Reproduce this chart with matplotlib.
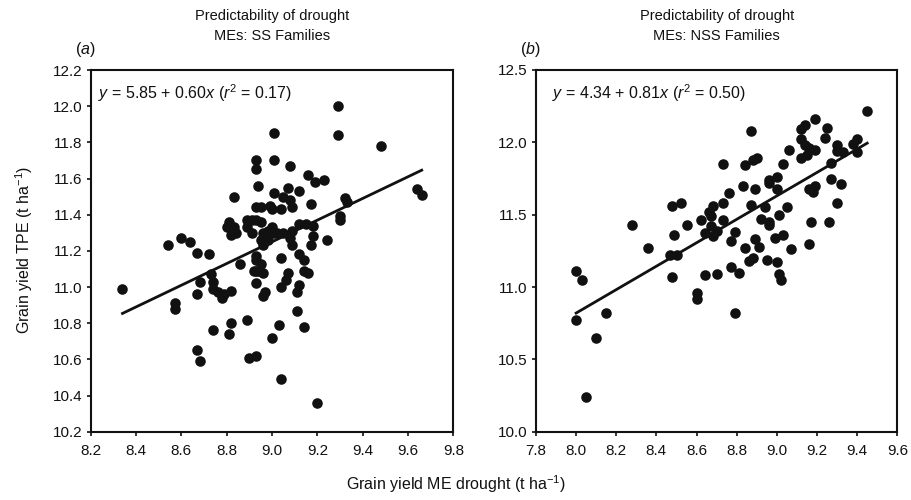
import numpy as np
import matplotlib
matplotlib.use('Agg')
import matplotlib.pyplot as plt

plt.rcParams['font.family'] = ['Liberation Sans', 'DejaVu Sans']
plt.rcParams['mathtext.fontset'] = 'custom'
plt.rcParams['mathtext.rm'] = 'Liberation Sans'
plt.rcParams['mathtext.it'] = 'Liberation Sans:italic'

# panel a: SS families
ss_x = [8.34, 8.54, 8.60, 8.64, 8.67, 8.72, 8.57, 8.57, 8.67, 8.68,
        8.73, 8.74, 8.74, 8.76, 8.78, 8.79, 8.82,
        8.86, 8.93, 8.94, 8.93, 8.74, 8.82, 8.81, 8.89, 8.67, 8.68, 8.90, 8.93,
        8.80, 8.82, 8.84, 8.81, 8.83, 8.83, 8.91, 8.91, 8.95, 8.89, 8.93, 8.95, 8.89,
        9.29, 9.01, 9.29, 9.48, 8.93, 9.01, 8.93, 9.08, 9.16, 9.19, 9.23, 8.94,
        9.01, 9.07, 9.12, 9.05, 9.08, 9.17, 9.32, 9.33, 9.64, 9.66,
        8.95, 8.93, 8.99, 9.00, 9.04, 9.09, 9.30, 9.12, 9.15, 9.18, 8.98, 9.01,
        9.05, 9.09, 9.18, 9.24, 9.00, 9.30,
        8.96, 8.98, 8.96, 9.02, 9.08, 9.09, 9.17, 9.04, 9.12, 9.14, 8.95, 8.93,
        8.96, 8.92, 8.93, 9.07, 9.06, 9.04, 9.14, 9.16, 8.97, 8.96, 9.12, 9.11,
        9.11, 9.03, 9.14, 9.00, 9.04, 9.20]
ss_y = [10.99, 11.23, 11.27, 11.25, 11.19, 11.18, 10.91, 10.88, 10.96, 11.03,
        11.07, 11.03, 10.99, 10.97, 10.94, 10.96, 10.98,
        11.13, 11.15, 11.09, 11.02, 10.76, 10.80, 10.74, 10.82, 10.65, 10.59, 10.61, 10.62,
        11.33, 11.29, 11.30, 11.36, 11.33, 11.50, 11.37, 11.30, 11.26, 11.37, 11.37, 11.36, 11.33,
        12.00, 11.85, 11.84, 11.78, 11.70, 11.70, 11.65, 11.67, 11.62, 11.58, 11.59, 11.56,
        11.52, 11.55, 11.53, 11.50, 11.48, 11.46, 11.49, 11.47, 11.54, 11.51,
        11.44, 11.44, 11.45, 11.43, 11.43, 11.44, 11.39, 11.35, 11.35, 11.34, 11.31, 11.30,
        11.30, 11.31, 11.28, 11.26, 11.33, 11.37,
        11.30, 11.26, 11.23, 11.30, 11.27, 11.23, 11.23, 11.16, 11.18, 11.15, 11.13, 11.09,
        11.08, 11.09, 11.17, 11.08, 11.04, 11.00, 11.09, 11.08, 10.97, 10.95, 11.01, 10.97,
        10.87, 10.79, 10.78, 10.72, 10.49, 10.36]

# panel b: NSS families
nss_x = [8.00, 8.03, 8.00, 8.15, 8.10, 8.05,
         8.28, 8.36, 8.48, 8.52, 8.55, 8.49, 8.47, 8.50, 8.48,
         8.60, 8.60, 8.64, 8.70, 8.79, 8.77, 8.81, 8.77, 8.79, 8.84, 8.86, 8.88,
         8.89, 8.91, 8.95, 8.99, 9.00, 9.01, 9.02, 9.03, 9.07, 9.16, 9.17, 9.26,
         8.62, 8.64, 8.67, 8.70, 8.73, 8.68,
         8.73, 8.68, 8.66, 8.67, 8.87, 8.94, 9.05, 9.01, 9.30,
         8.92, 8.96, 8.96,
         8.76, 8.83, 8.89, 9.00, 9.16, 9.18, 9.19, 9.27, 9.32,
         8.96, 9.00, 8.96, 8.73, 8.84, 9.03, 8.90, 8.88, 9.27,
         8.87, 9.19, 9.14, 9.12, 9.25, 9.24, 9.45,
         9.12, 9.14, 9.16, 9.19, 9.15, 9.06, 9.30, 9.30, 9.33, 9.38, 9.40, 9.40, 9.12]
nss_y = [11.11, 11.05, 10.77, 10.82, 10.65, 10.24,
         11.43, 11.27, 11.56, 11.58, 11.43, 11.36, 11.22, 11.22, 11.07,
         10.96, 10.92, 11.08, 11.09, 10.82, 11.14, 11.10, 11.32, 11.38, 11.27, 11.18, 11.20,
         11.33, 11.28, 11.19, 11.34, 11.17, 11.09, 11.05, 11.36, 11.26, 11.30, 11.45, 11.45,
         11.46, 11.37, 11.42, 11.39, 11.46, 11.35,
         11.58, 11.56, 11.52, 11.49, 11.57, 11.55, 11.55, 11.50, 11.58,
         11.47, 11.45, 11.43,
         11.65, 11.70, 11.68, 11.68, 11.68, 11.66, 11.70, 11.75, 11.71,
         11.74, 11.76, 11.72, 11.85, 11.84, 11.85, 11.89, 11.88, 11.86,
         12.08, 12.16, 12.12, 12.09, 12.10, 12.03, 12.22,
         12.02, 11.98, 11.96, 11.95, 11.91, 11.95, 11.98, 11.94, 11.93, 11.99, 12.02, 11.93, 11.89]

panels = [
    dict(x=ss_x, y=ss_y, a=5.85, b=0.60, r2=0.17, tag='a', fam='SS',
         xlim=(8.2, 9.8), xt=np.arange(8.2, 9.81, 0.2),
         ylim=(10.2, 12.2), yt=np.arange(10.2, 12.21, 0.2), eqx=0.02),
    dict(x=nss_x, y=nss_y, a=4.34, b=0.81, r2=0.50, tag='b', fam='NSS',
         xlim=(7.8, 9.6), xt=np.arange(7.8, 9.61, 0.2),
         ylim=(10.0, 12.5), yt=np.arange(10.0, 12.51, 0.5), eqx=0.044),
]

fig = plt.figure(figsize=(9.12, 5.0), dpi=100)
boxes = [[0.0995, 0.1366, 0.3977, 0.7234], [0.5877, 0.1366, 0.3962, 0.7234]]
ink = '#111111'

for box, p in zip(boxes, panels):
    ax = fig.add_axes(box)
    x = np.array(p['x'])
    y = np.array(p['y'])
    ax.plot(x, y, 'o', color=ink, markersize=7.6, markeredgewidth=0)
    xs = np.array([x.min(), x.max()])
    ax.plot(xs, p['a'] + p['b'] * xs, color=ink, lw=2.0)
    ax.set_xlim(*p['xlim'])
    ax.set_ylim(*p['ylim'])
    ax.set_xticks(p['xt'])
    ax.set_yticks(p['yt'])
    ax.set_xticklabels(['%.1f' % v for v in p['xt']])
    ax.set_yticklabels(['%.1f' % v for v in p['yt']])
    ax.tick_params(direction='out', length=3, width=1.2, labelsize=11,
                   colors=ink)
    ax.tick_params(axis='x', pad=6)
    ax.tick_params(axis='y', pad=3)
    for s in ax.spines.values():
        s.set_linewidth(1.5)
        s.set_color(ink)
    eq = r'$y$ = %.2f + %.2f$x$ ($r^2$ = %.2f)' % (p['a'], p['b'], p['r2'])
    ax.text(p['eqx'], 0.935, eq, transform=ax.transAxes, fontsize=11.5,
            va='center', ha='left', color=ink)
    ax.text(0.5, 1.075, 'Predictability of drought\nMEs: %s Families' % p['fam'],
            transform=ax.transAxes, ha='center', va='bottom', fontsize=10.5,
            linespacing=1.5, color=ink)
    ax.text(-0.015, 1.058, '($%s$)' % p['tag'], transform=ax.transAxes,
            ha='center', va='center', fontsize=11.5, color=ink)

fig.text(0.026, 0.5, r'Grain yield TPE (t ha$^{-1}$)', rotation=90,
         ha='center', va='center', fontsize=11.5, color=ink)
fig.text(0.5, 0.032, r'Grain yield ME drought (t ha$^{-1}$)',
         ha='center', va='center', fontsize=11.5, color=ink)

fig.savefig('out.png', dpi=100)
